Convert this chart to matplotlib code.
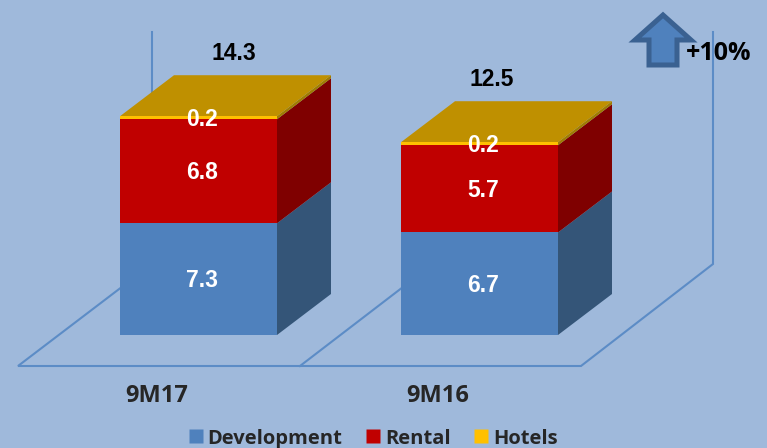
import matplotlib
matplotlib.use('Agg')
import matplotlib.pyplot as plt
from matplotlib.patches import Polygon
from matplotlib.lines import Line2D

categories = ['9M17', '9M16']
development = [7.3, 6.7]
rental = [6.8, 5.7]
hotels = [0.2, 0.2]
totals = ['14.3', '12.5']
change = '+10%'

BG = '#9FB9DB'
LINE = '#5C8CC6'
PX_X = 281.0     # pixels per category
PX_Y = 15.3      # pixels per value unit
X0, Y0 = 198.5, 335.0
W = 767
H = 448
NUM_FONT = 'Liberation Sans'
NUM_SIZE = 16.5


def px(x, y):
    # picture pixels to data coordinates
    return (x - X0) / PX_X, (Y0 - y) / PX_Y


fig = plt.figure(figsize=(7.67, 4.48), dpi=100, facecolor=BG)
ax = fig.add_axes([0, 0, 1, 1])
ax.set_facecolor(BG)
ax.set_xlim(px(0, 0)[0], px(W, 0)[0])
ax.set_ylim(px(0, H)[1], px(0, 0)[1])
ax.axis('off')

# walls and floor
for pts in [[(152, 32), (152, 264), (18, 366), (581, 366), (713, 264), (713, 32)],
            [(300, 366), (433, 264)]]:
    ax.plot(*zip(*[px(*p) for p in pts]), color=LINE, lw=1.5, zorder=1, solid_joinstyle='miter')

# 3d bars
width = 157 / PX_X
dx = 54 / PX_X
dy = 41 / PX_Y
series = [('Development', development, '#4F81BD', '#345578', '#4F81BD'),
          ('Rental', rental, '#C00000', '#7F0000', '#C00000'),
          ('Hotels', hotels, '#FFC000', '#A07C00', '#BF9000')]
xpos = list(range(len(categories)))
bottoms = [0.0] * len(categories)
for name, vals, front, side, top in series:
    ax.bar(xpos, vals, width, bottom=bottoms, color=front, label=name, zorder=3, linewidth=0)
    for i, v in enumerate(vals):
        x1 = xpos[i] + width / 2
        y0 = bottoms[i]
        ax.add_patch(Polygon([(x1, y0), (x1 + dx, y0 + dy), (x1 + dx, y0 + v + dy), (x1, y0 + v)],
                             facecolor=side, edgecolor='none', zorder=2.5))
        if name == 'Hotels':
            x_l = xpos[i] - width / 2
            ax.add_patch(Polygon([(x_l, y0 + v), (x1, y0 + v), (x1 + dx, y0 + v + dy), (x_l + dx, y0 + v + dy)],
                                 facecolor=top, edgecolor='none', zorder=2.6))
        ax.text(xpos[i] + 3.5 / PX_X, y0 + v / 2 - 1.5 / PX_Y, str(v), color='white',
                ha='center', va='center', family=NUM_FONT, weight='bold', size=NUM_SIZE, zorder=5)
    bottoms = [a + c for a, c in zip(bottoms, vals)]

# totals above the bars
total_dx = [35.5, 12.5]
for i, t in enumerate(totals):
    ax.text(xpos[i] + total_dx[i] / PX_X, bottoms[i] + dy + 21.5 / PX_Y, t, color='black',
            ha='center', va='center', family=NUM_FONT, weight='bold', size=NUM_SIZE, zorder=5)

# category labels
for i, c in enumerate(categories):
    ax.text(xpos[i] - 41.5 / PX_X, px(0, 396)[1], c, color='#262626', ha='center',
            va='center', family='Open Sans', weight='bold', size=17, zorder=5)

# growth arrow
arrow = [(663, 15), (691, 40), (677, 40), (677, 65), (649, 65), (649, 40), (635, 40)]
ax.add_patch(Polygon([px(*p) for p in arrow], closed=True, facecolor='#4F81BD', edgecolor='#3A6191',
                     lw=3.6, joinstyle='miter', zorder=4))
x_t, y_t = px(719, 54)
ax.text(x_t, y_t, change, color='black', ha='center', va='center', family='Open Sans', weight='bold',
        size=18, zorder=5)

# legend
leg_handles = [Line2D([], [], ls='none', marker='s', ms=10.5, mfc=s[2], mec='none') for s in series]
leg = fig.legend(leg_handles, [s[0] for s in series], loc='center', bbox_to_anchor=(371.5 / W, 1 - 438.5 / H),
                 ncol=3, frameon=False, handlelength=1.0, handletextpad=0.1, columnspacing=1.0,
                 prop={'family': 'Open Sans', 'weight': 'bold', 'size': 14.5}, labelcolor='#262626', borderpad=0)

fig.savefig('out.png', dpi=100, facecolor=BG)
